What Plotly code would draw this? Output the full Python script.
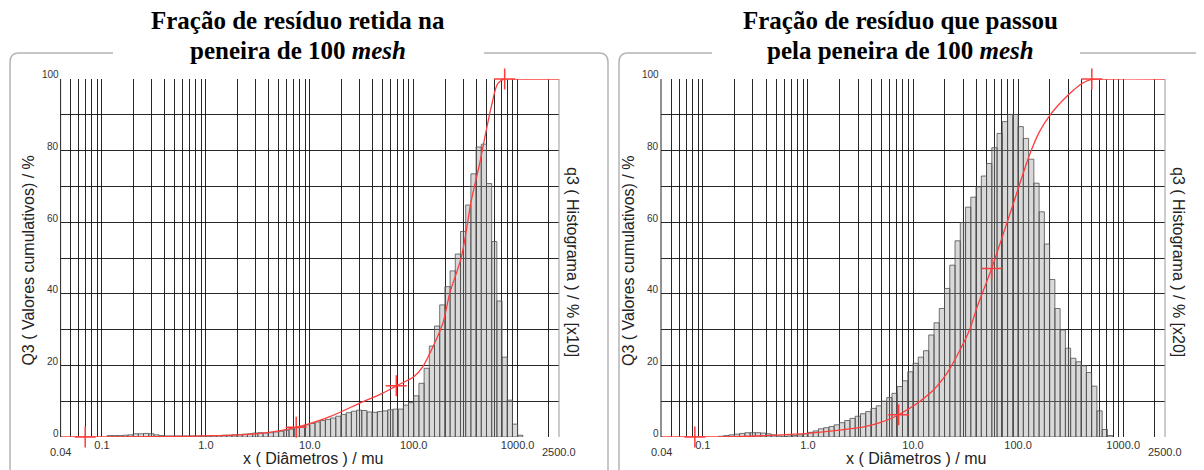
import math
import plotly.graph_objects as go

W, H = 1204, 470
PAGE_OFFSET = 8  # default body margin of the html page

# ---------------- data ----------------
# size classes: class k spans 10**(k/20) .. 10**((k+1)/20) micrometres
CLASSES_PER_DECADE = 20

left_first_class = -19
left_q3 = [0.4, 0.4, 0.4, 0.5, 0.6, 0.9, 0.9, 1.0, 0.9, 0.6,
           0.4, 0.3, 0.3, 0.3, 0.3, 0.3, 0.3, 0.3, 0.3, 0.3,
           0.4, 0.4, 0.5, 0.5, 0.6, 0.7, 0.8, 0.9, 1.1, 1.2,
           1.1, 1.2, 1.4, 1.6, 1.9, 2.2, 2.6, 3.0, 3.4, 3.8,
           4.2, 4.6, 4.9, 5.3, 5.8, 6.3, 6.8, 7.2, 7.5, 7.4,
           7.0, 6.9, 7.1, 7.3, 7.6, 7.8, 7.8, 8.9, 9.6, 11.5,
           15.0, 19.2, 25.4, 31.0, 36.9, 42.0, 46.4, 51.1, 57.4, 64.8,
           73.5, 81.0, 81.8, 70.8, 54.6, 38.0, 22.3, 10.3, 3.6, 0.5]

right_first_class = -17
right_q3 = [0.2, 0.4, 0.6, 0.8, 1.0, 1.2, 1.2, 1.2, 1.1, 0.9,
            0.6, 0.3, 0.2, 0.3, 0.4, 0.6, 0.9, 1.3, 1.7, 2.3,
            2.6, 2.9, 3.4, 4.0, 4.6, 5.2, 5.8, 6.5, 7.1, 8.0,
            8.7, 10.0, 11.0, 12.2, 14.1, 15.7, 18.2, 20.6, 22.3, 24.1,
            28.5, 31.9, 35.9, 41.5, 48.0, 54.8, 59.9, 64.2, 67.0, 69.9,
            72.9, 76.4, 80.8, 84.8, 88.1, 90.1, 90.1, 86.7, 83.4, 77.6,
            70.9, 62.9, 53.9, 44.0, 35.9, 29.9, 24.8, 22.0, 21.0, 19.9,
            18.0, 14.2, 7.3, 2.1, 0.4]

left_Q3_x = [0.04, 0.069, 0.3, 1.0, 3.0, 7.4, 15.6, 32.6, 50, 68, 100, 122,
             153, 191, 222, 288, 359, 431, 471, 558, 646, 750, 1000, 2500]
left_Q3_y = [0, 0, 0.1, 0.3, 0.9, 2.7, 5.7, 9.9, 12.2, 14.3, 16.8, 19.6,
             25.2, 31.8, 40.1, 50.4, 66.2, 76.4, 82.0, 92.3, 98.8, 100, 100, 100]
left_marks_x = [0.069, 7.4, 68, 750]
left_marks_y = [0, 2.7, 14.3, 100]

right_Q3_x = [0.04, 0.084, 0.2, 0.5, 1.0, 2.0, 3.5, 4.85, 7.3, 14.5, 21, 28,
              35, 40.4, 56, 84, 130, 160, 202, 250, 291, 340, 389, 440, 503,
              700, 2500]
right_Q3_y = [0, 0, 0.1, 0.5, 1.0, 1.9, 2.9, 4.0, 6.2, 12.2, 17.8, 24.3,
              30.4, 36.0, 47.1, 62.5, 79.2, 85.3, 90.0, 93.2, 95.2, 97.0, 98.4, 99.3, 99.9,
              100, 100]
right_marks_x = [0.084, 7.3, 56, 503]
right_marks_y = [0, 6.2, 47.1, 100]

x_tick_labels = {0.1: "0.1", 1: "1.0", 10: "10.0", 100: "100.0", 1000: "1000.0"}
x_edge_labels = {0.04: "0.04", 2500: "2500.0"}
y_tick_labels = [0, 20, 40, 60, 80, 100]

titles = [("Fração de resíduo retida na", "peneira de 100 <i>mesh</i>"),
          ("Fração de resíduo que passou", "pela peneira de 100 <i>mesh</i>")]
q3_titles = ["q3 ( Histograma ) / % [x10]", "q3 ( Histograma ) / % [x20]"]
Q3_title = "Q3 ( Valores cumulativos) / %"
x_title = "x ( Diâmetros ) / mu"

# ---------------- layout geometry (page pixels) ----------------
panels = [dict(x0=60.6, x1=559.0), dict(x0=661.0, x1=1165.0)]
PY_TOP, PY_BOT = 79.0, 437.0

def px(x):
    return (x - PAGE_OFFSET) / W

def py(y):
    return 1 - (y - PAGE_OFFSET) / H

fig = go.Figure()

RED = "rgb(255,60,60)"
hist_sets = [(left_first_class, left_q3), (right_first_class, right_q3)]
curves = [(left_Q3_x, left_Q3_y, left_marks_x, left_marks_y),
          (right_Q3_x, right_Q3_y, right_marks_x, right_marks_y)]

for i in range(2):
    xa = "x" if i == 0 else "x2"
    ya = "y" if i == 0 else "y2"
    first, vals = hist_sets[i]
    bx, by = [], []
    for j, v in enumerate(vals):
        k = first + j
        lo = 10 ** (k / CLASSES_PER_DECADE)
        hi = 10 ** ((k + 1) / CLASSES_PER_DECADE)
        bx += [lo, lo, hi, hi, lo, None]
        by += [0, v, v, 0, 0, None]
    fig.add_trace(go.Scatter(x=bx, y=by, xaxis=xa, yaxis=ya, mode="lines",
                             fill="toself", fillcolor="rgba(150,150,150,0.36)",
                             line=dict(color="rgba(80,80,80,0.8)", width=1),
                             hoverinfo="skip", showlegend=False))
    cx, cy, mx, my = curves[i]
    fig.add_trace(go.Scatter(x=cx, y=cy, xaxis=xa, yaxis=ya, mode="lines",
                             line=dict(color=RED, width=1.3, shape="spline", smoothing=0.9),
                             showlegend=False, cliponaxis=False))
    fig.add_trace(go.Scatter(x=mx, y=my, xaxis=xa, yaxis=ya, mode="markers",
                             marker=dict(symbol="cross-thin-open", size=15, color=RED,
                                         line=dict(color=RED, width=1.5)),
                             showlegend=False, cliponaxis=False))

# grid positions
grid_vals, grid_text = [], []
for e in range(-2, 4):
    for m in range(1, 10):
        v = round(m * 10 ** e, 6)
        if 0.04 < v < 2500:
            grid_vals.append(v)
            grid_text.append(x_tick_labels.get(v, ""))

GRID = "rgba(15,15,15,0.9)"
xcommon = dict(type="log", range=[math.log10(0.04), math.log10(2500)],
               tickvals=grid_vals, ticktext=grid_text, showgrid=True,
               gridcolor=GRID, gridwidth=1.1, ticks="",
               tickfont=dict(family="Liberation Sans, Arial", size=11, color="#333"),
               showline=False, zeroline=False, fixedrange=True)
ycommon = dict(range=[0, 100], tickvals=list(range(0, 101, 10)), showticklabels=False,
               showgrid=True, gridcolor=GRID, gridwidth=1.1, ticks="",
               showline=False, zeroline=False, fixedrange=True)
yd = [py(PY_BOT), py(PY_TOP)]
fig.update_layout(
    xaxis=dict(domain=[px(panels[0]["x0"]), px(panels[0]["x1"])], anchor="y", **xcommon),
    yaxis=dict(domain=yd, anchor="x", **ycommon),
    xaxis2=dict(domain=[px(panels[1]["x0"]), px(panels[1]["x1"])], anchor="y2", **xcommon),
    yaxis2=dict(domain=yd, anchor="x2", **ycommon),
)

shapes, annotations = [], []
FRAME = "#b4b4b4"
SANS = "Liberation Sans, Arial"
SERIF = "Liberation Serif, Times New Roman"

for i in range(2):
    xa = "x" if i == 0 else "x2"
    ya = "y" if i == 0 else "y2"
    p = panels[i]
    shapes.append(dict(type="line", xref=f"{xa} domain", yref=f"{ya} domain",
                       x0=0, x1=0, y0=0, y1=1, line=dict(color="#222", width=1)))
    shapes.append(dict(type="line", xref=f"{xa} domain", yref=f"{ya} domain",
                       x0=1, x1=1, y0=0, y1=1, line=dict(color="#999", width=1)))
    for v in y_tick_labels:
        annotations.append(dict(xref=f"{xa} domain", yref=ya, x=0, y=v, text=str(v),
                                showarrow=False, xanchor="right", yanchor="middle",
                                xshift=0, yshift=4,
                                font=dict(family=SANS, size=10, color="#333")))
    for v, t in x_edge_labels.items():
        annotations.append(dict(xref=xa, yref="paper", x=math.log10(v), y=py(452),
                                text=t, showarrow=False, xanchor="center", yanchor="middle",
                                font=dict(family=SANS, size=11, color="#333")))
    cx = (p["x0"] + p["x1"]) / 2
    annotations.append(dict(xref="paper", yref="paper", x=px(cx + 3), y=py(458),
                            text=x_title, showarrow=False, xanchor="center", yanchor="middle",
                            font=dict(family=SANS, size=16, color="#222")))
    annotations.append(dict(xref="paper", yref="paper", x=px(p["x0"] - 33), y=py(261),
                            text=Q3_title, textangle=-90, showarrow=False,
                            xanchor="center", yanchor="middle",
                            font=dict(family=SANS, size=16, color="#222")))
    annotations.append(dict(xref="paper", yref="paper", x=px(p["x1"] + 14), y=py(262),
                            text=q3_titles[i], textangle=90, showarrow=False,
                            xanchor="center", yanchor="middle",
                            font=dict(family=SANS, size=16, color="#222")))

title_cx = [297.5, 900.0]
for i in range(2):
    annotations.append(dict(xref="paper", yref="paper", x=px(title_cx[i]), y=py(20),
                            text=f"<b>{titles[i][0]}</b>", showarrow=False,
                            xanchor="center", yanchor="middle",
                            font=dict(family=SERIF, size=25, color="#000")))
    annotations.append(dict(xref="paper", yref="paper", x=px(title_cx[i]), y=py(50),
                            text=f"<b>{titles[i][1]}</b>", showarrow=False,
                            xanchor="center", yanchor="middle",
                            font=dict(family=SERIF, size=25, color="#000")))

def frame(xl, xr, gap0, gap1, top=53, r=9, bottom=490):
    left = (f"M {px(gap0)},{py(top)} L {px(xl + r)},{py(top)} "
            f"Q {px(xl)},{py(top)} {px(xl)},{py(top + r)} L {px(xl)},{py(bottom)}")
    right = (f"M {px(gap1)},{py(top)} L {px(xr - r)},{py(top)} "
             f"Q {px(xr)},{py(top)} {px(xr)},{py(top + r)} L {px(xr)},{py(bottom)}")
    return [dict(type="path", xref="paper", yref="paper", path=left,
                 line=dict(color=FRAME, width=1.5)),
            dict(type="path", xref="paper", yref="paper", path=right,
                 line=dict(color=FRAME, width=1.5))]

shapes += frame(10, 608, 113, 484)
shapes += frame(619, 1240, 712, 1080)

fig.update_layout(width=W, height=H, autosize=False,
                  margin=dict(l=0, r=0, t=0, b=0),
                  paper_bgcolor="white", plot_bgcolor="white",
                  shapes=shapes, annotations=annotations, showlegend=False)

fig.write_html("out.html")
